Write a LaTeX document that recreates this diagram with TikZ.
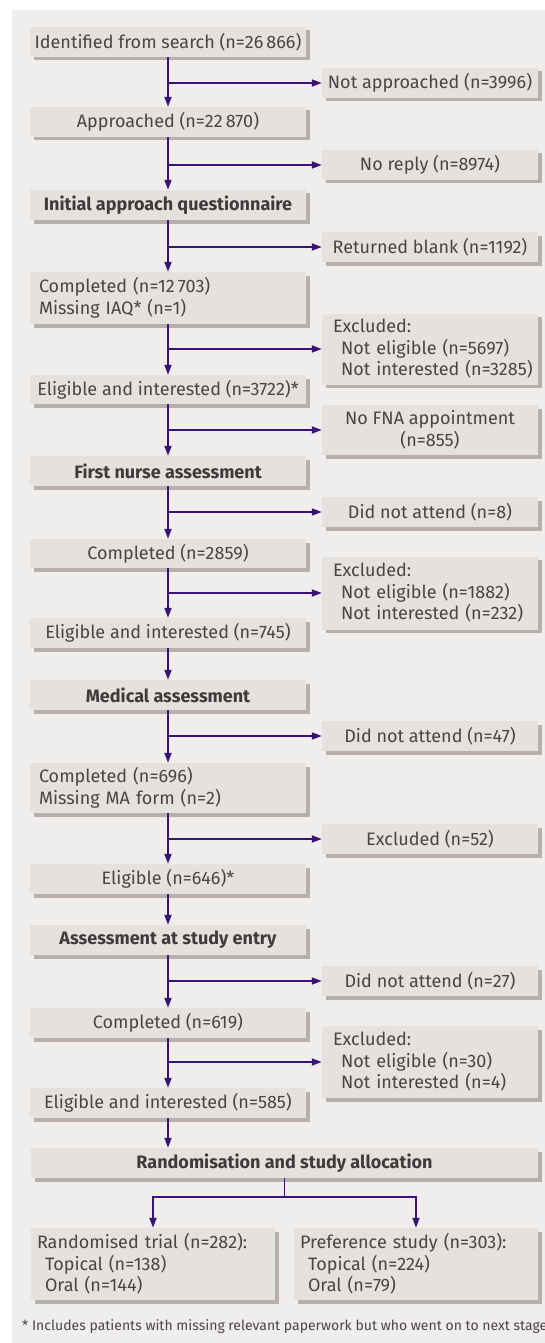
\documentclass[tikz,border=0pt]{standalone}
\usepackage{fontspec}
\setmainfont{Fira Sans}
\usetikzlibrary{shadows,arrows.meta,calc}
\definecolor{panel}{HTML}{F0EEEC}
\definecolor{boxc}{HTML}{E5E1DE}
\definecolor{shad}{HTML}{B8AFAA}
\definecolor{arrc}{HTML}{3A1470}
\definecolor{txt}{HTML}{4A4544}
\definecolor{hdtxt}{HTML}{403B3B}
\newcommand{\ind}{\hspace*{8pt}}
\begin{document}
\begin{tikzpicture}[x=1pt,y=-1pt,
  box/.style={fill=boxc, draw=none, text=txt, inner sep=0pt,
    font=\fontsize{18}{21.5}\selectfont,
    drop shadow={shadow xshift=3.5pt, shadow yshift=-3.5pt, fill=shad, opacity=1}},
  lb/.style={box, minimum width=276pt, minimum height=30pt, align=center},
  lbl/.style={box, minimum width=276pt, text width=258pt, align=left},
  hd/.style={lb, text=hdtxt, font=\fontsize{18}{21.5}\selectfont\bfseries},
  rb/.style={box, minimum width=216pt, minimum height=30pt, align=center},
  rbl/.style={box, minimum width=216pt, text width=194pt, align=left},
  arr/.style={draw=arrc, line width=1.8pt, -{Triangle[length=10pt,width=7pt]}},
  ln/.style={draw=arrc, line width=1.8pt}]
\useasboundingbox (0,0) rectangle (545,1343);
\fill[panel] (12,10) rectangle (545,1343);
% left column
\node[lb] (ident) at (168,42) {Identified from search (n=26\,866)};
\node[lb] (appr) at (168,122) {Approached (n=22\,870)};
\node[hd] (iaq) at (168,205) {Initial approach questionnaire};
\node[lbl, minimum height=52pt] (comp1) at (168,298) {\mbox{Completed (n=12\,703)}\\\mbox{Missing IAQ* (n=1)}};
\node[lb, minimum height=29pt] (elig1) at (168,389.5) {Eligible and interested (n=3722)*};
\node[hd] (fna) at (168,471) {First nurse assessment};
\node[lb, minimum height=29pt] (comp2) at (168,553.5) {Completed (n=2859)};
\node[lb] (elig2) at (168,633) {Eligible and interested (n=745)};
\node[hd] (med) at (168,695) {Medical assessment};
\node[lbl, minimum height=50pt] (comp3) at (168,788) {\mbox{Completed (n=696)}\\\mbox{Missing MA form (n=2)}};
\node[lb] (elig3) at (168,879) {Eligible (n=646)*};
\node[hd] (ase) at (168,940) {Assessment at study entry};
\node[lb] (comp4) at (168,1023) {Completed (n=619)};
\node[lb] (elig4) at (168,1103) {Eligible and interested (n=585)};
% right column
\node[rb] (r1) at (430,83) {Not approached (n=3996)};
\node[rb] (r2) at (430,165) {No reply (n=8974)};
\node[rb] (r3) at (430,247) {Returned blank (n=1192)};
\node[rbl, minimum height=71pt] (r4) at (430,349) {\mbox{Excluded:}\\\mbox{\ind Not eligible (n=5697)}\\\mbox{\ind Not interested (n=3285)}};
\node[rb, minimum height=50pt] (r5) at (430,430) {No FNA appointment\\(n=855)};
\node[rb] (r6) at (430,512) {Did not attend (n=8)};
\node[rbl, minimum height=73pt] (r7) at (430,593) {\mbox{Excluded:}\\\mbox{\ind Not eligible (n=1882)}\\\mbox{\ind Not interested (n=232)}};
\node[rb] (r8) at (430,736) {Did not attend (n=47)};
\node[rb] (r9) at (430,839) {Excluded (n=52)};
\node[rb] (r10) at (430,981) {Did not attend (n=27)};
\node[rbl, minimum height=72pt] (r11) at (430,1062) {\mbox{Excluded:}\\\mbox{\ind Not eligible (n=30)}\\\mbox{\ind Not interested (n=4)}};
% randomisation
\node[box, minimum width=507pt, minimum height=30pt, text=hdtxt, font=\fontsize{18}{21.5}\selectfont\bfseries] (rnd) at (284.5,1163) {Randomisation and study allocation};
\node[box, minimum width=244pt, text width=232pt, align=left, minimum height=72pt] (rt) at (153,1264) {\mbox{Randomised trial (n=282):}\\\mbox{\ind Topical (n=138)}\\\mbox{\ind Oral (n=144)}};
\node[box, minimum width=244pt, text width=232pt, align=left, minimum height=72pt] (ps) at (416,1264) {\mbox{Preference study (n=303):}\\\mbox{\ind Topical (n=224)}\\\mbox{\ind Oral (n=79)}};
% footnote
\node[anchor=base west, inner sep=0pt, text=txt, font=\fontsize{14}{16}\selectfont] (fn) at (22,1330) {* Includes patients with missing relevant paperwork but who went on to next stage};
% main flow
\draw[arr] (ident) -- (appr);
\draw[arr] (appr) -- (iaq);
\draw[arr] (iaq) -- (comp1);
\draw[arr] (comp1) -- (elig1);
\draw[arr] (elig1) -- (fna);
\draw[arr] (fna) -- (comp2);
\draw[arr] (comp2) -- (elig2);
\draw[arr] (elig2) -- (med);
\draw[arr] (med) -- (comp3);
\draw[arr] (comp3) -- (elig3);
\draw[arr] (elig3) -- (ase);
\draw[arr] (ase) -- (comp4);
\draw[arr] (comp4) -- (elig4);
\draw[arr] (elig4.south) -- (elig4.south |- rnd.north);
% side branches
\draw[arr] (ident.south |- r1.west) -- (r1.west);
\draw[arr] (appr.south |- r2.west) -- (r2.west);
\draw[arr] (iaq.south |- r3.west) -- (r3.west);
\draw[arr] (comp1.south |- r4.west) -- (r4.west);
\draw[arr] (elig1.south |- r5.west) -- (r5.west);
\draw[arr] (fna.south |- r6.west) -- (r6.west);
\draw[arr] (comp2.south |- r7.west) -- (r7.west);
\draw[arr] (med.south |- r8.west) -- (r8.west);
\draw[arr] (comp3.south |- r9.west) -- (r9.west);
\draw[arr] (ase.south |- r10.west) -- (r10.west);
\draw[arr] (comp4.south |- r11.west) -- (r11.west);
% allocation split
\coordinate (split) at ($(rnd.south)+(0,19)$);
\draw[ln] (rnd.south) -- (split);
\draw[arr] (split) -| (rt.north);
\draw[arr] (split) -| (ps.north);
\end{tikzpicture}
\end{document}
